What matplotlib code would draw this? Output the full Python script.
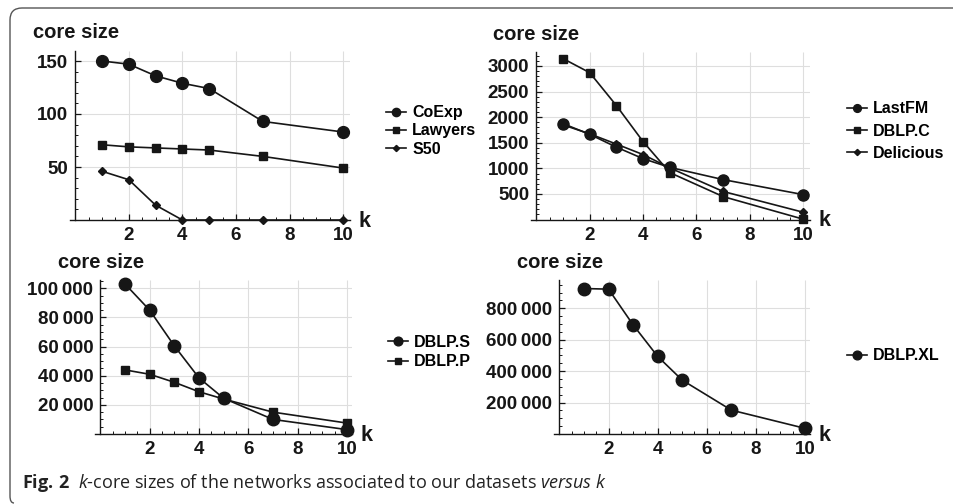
import numpy as np
import matplotlib
matplotlib.use("Agg")
import matplotlib.pyplot as plt
from matplotlib.ticker import FuncFormatter, MultipleLocator
from matplotlib.path import Path
from matplotlib.patches import PathPatch

plt.rcParams['font.family'] = ['Liberation Sans', 'DejaVu Sans']
plt.rcParams['mathtext.fontset'] = 'custom'
plt.rcParams['mathtext.rm'] = 'Open Sans'
plt.rcParams['mathtext.it'] = 'Open Sans:italic:normal'
plt.rcParams['mathtext.bf'] = 'Open Sans:bold'

# data
k = [1, 2, 3, 4, 5, 7, 10]

coexp = [150, 147, 136, 129, 124, 93, 83]
lawyers = [71, 69, 68, 67, 66, 60, 49]
s50 = [46, 38, 14, 0, 0, 0, 0]

lastfm = [1875, 1665, 1415, 1190, 1020, 781, 488]
dblp_c = [3145, 2870, 2227, 1523, 918, 449, 8]
delicious = [1850, 1675, 1475, 1270, 1010, 549, 143]

dblp_s = [103000, 85000, 60500, 38500, 24500, 10000, 3000]
dblp_p = [44000, 41000, 35500, 29000, 24000, 15000, 7500]

dblp_xl = [926000, 922000, 695000, 494000, 343000, 152000, 36000]

W, H = 954, 504
INK = '#161616'
GRID = '#dedede'

fig = plt.figure(figsize=(W / 100, H / 100), dpi=100)

# frame: top and left edges with rounded corners, open to the right
verts = [(W + 5, 8), (22, 8), (10, 8), (10, 20), (10, 496), (10, 503), (14, 503)]
codes = [Path.MOVETO, Path.LINETO, Path.CURVE3, Path.CURVE3,
         Path.LINETO, Path.CURVE3, Path.CURVE3]
verts = [(x / W, 1 - y / H) for x, y in verts]
fig.add_artist(PathPatch(Path(verts, codes), transform=fig.transFigure,
                         fill=False, edgecolor='#555555', linewidth=1.0))


def place(x0, xu, y0, yu, xlim, ylim):
    # x0/y0: pixel of data origin, xu/yu: pixels per data unit
    left = x0 + xlim[0] * xu
    right = x0 + xlim[1] * xu
    top = y0 - ylim[1] * yu
    bottom = y0 - ylim[0] * yu
    ax = fig.add_axes([left / W, 1 - bottom / H, (right - left) / W, (bottom - top) / H])
    ax.set_xlim(xlim)
    ax.set_ylim(ylim)
    return ax


def thin(v, pos):
    s = f"{int(v):,}"
    return s.replace(",", "\u2009")


def style(ax, yticks, yminor, xmax, ymax, fmt=None):
    for s in ['top', 'right']:
        ax.spines[s].set_visible(False)
    ax.spines['left'].set_position(('data', 0))
    ax.spines['bottom'].set_position(('data', 0))
    ax.spines['left'].set_bounds(0, ymax)
    for s in ['left', 'bottom']:
        ax.spines[s].set_color(INK)
        ax.spines[s].set_linewidth(1.0)
    ax.set_xticks([2, 4, 6, 8, 10])
    ax.xaxis.set_minor_locator(MultipleLocator(0.5))
    ax.set_yticks(yticks)
    ax.yaxis.set_minor_locator(MultipleLocator(yminor))
    if fmt is not None:
        ax.yaxis.set_major_formatter(FuncFormatter(fmt))
    ax.tick_params(which='major', direction='in', length=4, width=0.9, color=INK,
                   labelsize=13.5, pad=5, labelcolor=INK)
    ax.tick_params(which='minor', direction='in', length=2, width=0.7, color=INK)
    for lab in ax.get_xticklabels() + ax.get_yticklabels():
        lab.set_fontweight('bold')
    ax.vlines([2, 4, 6, 8, 10], 0, ymax, color=GRID, lw=0.8, zorder=0)
    ax.hlines(yticks, 0, xmax, color=GRID, lw=0.8, zorder=0)
    ax.annotate('k', xy=(xmax, 0), xycoords='data', xytext=(6, -1),
                textcoords='offset points', ha='left', va='center',
                fontsize=15.5, fontweight='bold', color=INK, annotation_clip=False)
    ax.patch.set_alpha(0)


def legend(ax, x, y, spacing):
    leg = ax.legend(loc='center left', bbox_to_anchor=(x / W, 1 - y / H),
                    bbox_transform=fig.transFigure, frameon=False,
                    borderpad=0, borderaxespad=0, handlelength=1.25,
                    handletextpad=0.4, labelspacing=spacing, markerscale=0.7,
                    prop={'size': 11.5, 'weight': 'bold'})
    return leg


def series(ax, y, marker, ms, label):
    ax.plot(k, y, marker=marker, ms=ms, color=INK, lw=1.2, label=label,
            clip_on=False, zorder=3)


def title(x, y):
    fig.text(x / W, 1 - y / H, 'core size', fontsize=14.5, fontweight='bold',
             va='center', ha='left', color=INK)


# panel 1
ax1 = place(75.2, 26.8, 220, 1.06, (-0.2, 10.25), (-0.8, 159))
series(ax1, coexp, 'o', 8.5, 'CoExp')
series(ax1, lawyers, 's', 6, 'Lawyers')
series(ax1, s50, 'D', 4.5, 'S50')
style(ax1, [50, 100, 150], 10, 10.25, 159)
legend(ax1, 386, 131, 0.2)
title(33, 33)

# panel 2
ax2 = place(536.3, 26.7, 219.6, 0.0512, (-0.2, 10.25), (-15, 3270))
series(ax2, lastfm, 'o', 8, 'LastFM')
series(ax2, dblp_c, 's', 6, 'DBLP.C')
series(ax2, delicious, 'D', 4.5, 'Delicious')
style(ax2, [500, 1000, 1500, 2000, 2500, 3000], 100, 10.25, 3270)
legend(ax2, 847, 131, 0.45)
title(493, 34)

# panel 3
ax3 = place(100.3, 24.67, 434, 0.001457, (-0.2, 10.2), (-500, 105700))
series(ax3, dblp_s, 'o', 9, 'DBLP.S')
series(ax3, dblp_p, 's', 6, 'DBLP.P')
style(ax3, [20000, 40000, 60000, 80000, 100000], 5000, 10.2, 105700, thin)
legend(ax3, 388, 352, 0.3)
title(58, 262)

# panel 4
ax4 = place(559.4, 24.56, 434, 0.0001571, (-0.2, 10.2), (-4000, 980000))
series(ax4, dblp_xl, 'o', 9, 'DBLP.XL')
style(ax4, [200000, 400000, 600000, 800000], 50000, 10.2, 980000, thin)
legend(ax4, 847, 356, 0.3)
title(517, 262)

# caption
fig.text(22 / W, 1 - 483 / H,
         r"$\mathbf{Fig.\,2}$  $\mathit{k}$-core sizes of the networks associated to our datasets $\mathit{versus}$ $\mathit{k}$",
         family='Open Sans', fontweight='normal', fontsize=13, va='center',
         ha='left', color='#222222')

fig.savefig('out.png', dpi=100)
